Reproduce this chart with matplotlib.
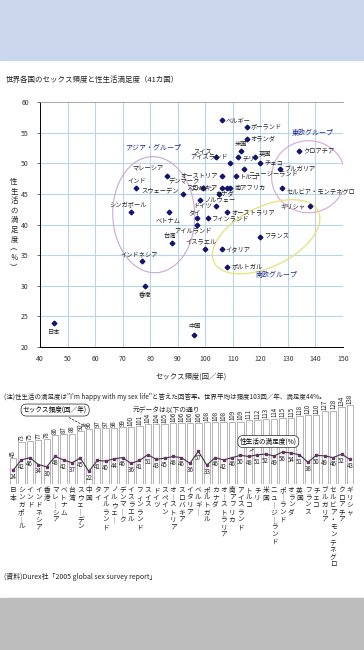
import numpy as np
import matplotlib.pyplot as plt
from matplotlib.patches import Rectangle

plt.rcParams['font.family'] = ['Noto Sans CJK JP', 'DejaVu Sans']

# 41 countries, sorted by frequency (Durex 2005)
countries = ['日本', 'シンガポール', 'インド', 'インドネシア', '香港', 'マレーシア',
             'ベトナム', '台湾', 'スウェーデン', '中国', 'タイ', 'アイルランド',
             'ノルウェー', 'デンマーク', 'イスラエル', 'フィンランド', 'スイス',
             'ドイツ', 'スペイン', 'オーストリア', 'スロバキア', 'イタリア',
             'ベルギー', 'ポルトガル', 'カナダ', 'オーストラリア', '南アフリカ',
             'アイスランド', 'トルコ', 'チリ', '米国', 'ニュージーランド',
             'ポーランド', 'オランダ', '英国', 'フランス', 'チェコ', 'ブルガリア',
             'セルビア・モンテネグロ', 'クロアチア', 'ギリシャ']
freq = [45, 73, 75, 77, 78, 86, 87, 88, 92, 96, 97, 97, 98, 99, 100, 101, 104,
        104, 105, 106, 106, 106, 106, 108, 108, 108, 109, 109, 111, 112, 113,
        114, 115, 115, 118, 120, 120, 127, 128, 134, 138]
satisfaction = [24, 42, 46, 34, 30, 48, 42, 37, 45, 22, 41, 40, 44, 46, 36, 41,
                51, 43, 45, 48, 46, 36, 57, 33, 46, 42, 46, 50, 48, 51, 52, 49,
                56, 54, 51, 38, 50, 49, 46, 52, 43]

# label placement for the scatter (offset in points, alignment)
label_place = {
    '日本': (0, -7, 'center'), 'シンガポール': (-2, 5, 'center'),
    'インド': (0, 5, 'center'), 'インドネシア': (-2, 5, 'center'),
    '香港': (0, -7, 'center'), 'マレーシア': (-2, 5, 'right'),
    'ベトナム': (-1, -6, 'center'), '台湾': (-2, 5, 'center'),
    'スウェーデン': (-3, 2, 'right'), '中国': (0, 6, 'center'),
    'タイ': (-2, 4, 'center'), 'アイルランド': (-3, -4, 'center'),
    'ノルウェー': (3, 0, 'left'), 'デンマーク': (-2, 5, 'right'),
    'イスラエル': (-3, 5, 'center'), 'フィンランド': (2, 0, 'left'),
    'スイス': (-3, 3, 'right'), 'ドイツ': (-3, 0, 'right'),
    'スペイン': (-3, 3, 'right'), 'オーストリア': (-3, 0, 'right'),
    'スロバキア': (-3, 0, 'right'), 'イタリア': (3, 0, 'left'),
    'ベルギー': (3, 0, 'left'), 'ポルトガル': (3, 0, 'left'),
    'カナダ': (-2, -5, 'center'), 'オーストラリア': (3, 0, 'left'),
    '南アフリカ': (3, 0, 'left'), 'アイスランド': (-2, 5, 'right'),
    'トルコ': (3, -1, 'left'), 'チリ': (3, -1, 'left'), '米国': (0, 5, 'center'),
    'ニュージーランド': (3, -3, 'left'), 'ポーランド': (3, 0, 'left'),
    'オランダ': (3, 0, 'left'), '英国': (3, 3, 'left'), 'フランス': (3, 0, 'left'),
    'チェコ': (3, 0, 'left'), 'ブルガリア': (3, 0, 'left'),
    'セルビア・モンテネグロ': (3, -3, 'left'), 'クロアチア': (3, 0, 'left'),
    'ギリシャ': (-3, 0, 'right'),
}

W, H = 364, 650
NAVY = '#14146e'
GRID = '#b9d6e8'

fig = plt.figure(figsize=(W / 100, H / 100), dpi=100)
fig.patch.set_facecolor('white')
fig.patches.append(Rectangle((0, 1 - 60 / H), 1, 60 / H, transform=fig.transFigure,
                             color='#cad6ec', zorder=-5))
fig.patches.append(Rectangle((0, 0), 1, 52 / H, transform=fig.transFigure,
                             color='#bdbdbd', zorder=-5))

fig.text(6 / W, 1 - 80 / H, '世界各国のセックス頻度と性生活満足度（41カ国）',
         fontsize=5.4, va='center', ha='left', color='#222')

# ---------------- scatter ----------------
ax = fig.add_axes([40 / W, 1 - 347 / H, 303 / W, 245 / H])
ax.set_xlim(40, 150)
ax.set_ylim(20, 60)
ax.set_xticks(np.arange(40, 151, 10))
ax.set_yticks(np.arange(20, 61, 5))
for v in range(50, 150, 10):
    ax.axvline(v, color=GRID, lw=0.8, zorder=0)
for v in range(25, 60, 5):
    ax.axhline(v, color=GRID, lw=0.8, zorder=0)
ax.spines['right'].set_visible(False)
ax.spines['top'].set_color('#9a9a9a')
ax.spines['top'].set_linewidth(0.6)
ax.spines['left'].set_linewidth(0.7)
ax.spines['bottom'].set_linewidth(0.7)
ax.tick_params(labelsize=5, length=2, width=0.5, colors='#333', pad=6)
ax.tick_params(axis='x', length=0)

ax.plot(freq, satisfaction, 'D', ms=2.4, color=NAVY, zorder=3)
for c, fx, sy in zip(countries, freq, satisfaction):
    dx, dy, ha = label_place[c]
    ax.annotate(c, (fx, sy), xytext=(dx, dy), textcoords='offset points',
                ha=ha, va='center', fontsize=4.5, color='#222', zorder=4)

# group ellipses drawn in pixel proportions
SX, SY = 2.755, 6.12


def ellipse(cx, cy, a, b, ang):
    t = np.linspace(0, 2 * np.pi, 200)
    th = np.radians(ang)
    px = a * np.cos(t) * np.cos(th) - b * np.sin(t) * np.sin(th)
    py = a * np.cos(t) * np.sin(th) + b * np.sin(t) * np.cos(th)
    return cx + px / SX, cy + py / SY


ax.plot(*ellipse(81.3, 41.6, 58, 41, 92), color='#c7a8d8', lw=0.8, zorder=2)
ax.plot(*ellipse(137.5, 47.8, 37, 36, 0), color='#d9a6d9', lw=0.8, zorder=2)
ax.plot(*ellipse(122.1, 38.0, 58, 30, 26), color='#e8e07a', lw=0.9, zorder=2)

ax.text(81, 52.3, 'アジア・グループ', fontsize=5, color='#1c2a8c', ha='center')
ax.text(139, 54.6, '東欧グループ', fontsize=5, color='#1c2a8c', ha='center')
ax.text(126, 31.5, '南欧グループ', fontsize=5, color='#1c2a8c', ha='center')

ax.set_xlabel('セックス頻度(回／年)', fontsize=5.3, labelpad=7, color='#222')
fig.text(14 / W, 1 - 225 / H, '\n'.join('性生活の満足度︵％︶'), fontsize=5.3,
         ha='center', va='center', linespacing=1.25, color='#222')

fig.text(4 / W, 1 - 397 / H,
         '(注)性生活の満足度は"I\'m happy with my sex life"と答えた回答率。'
         '世界平均は頻度103回／年、満足度44%。',
         fontsize=4.65, ha='left', va='center', color='#222')
fig.text(133 / W, 1 - 410 / H, '元データは以下の通り', fontsize=4.9,
         ha='left', va='center', color='#222')

# ---------------- bar + line ----------------
bx = fig.add_axes([8.8 / W, 1 - 484 / H, 345.4 / W, 86 / H])
xs = np.arange(len(countries))
bx.bar(xs, freq, width=0.76, color='white', edgecolor='#a8a8a8', lw=0.6)
bx.plot(xs, satisfaction, color='#3a3a3a', lw=0.8, marker='s', ms=1.6,
        mfc='#6b2f6b', mec='#6b2f6b')
for i, (f, s) in enumerate(zip(freq, satisfaction)):
    bx.text(i, f + 2, str(f), rotation=90, ha='center', va='bottom', fontsize=4.4,
            color='#222')
    bx.text(i, s - 5, str(s), ha='center', va='top', fontsize=4.4, color='#222')
for i, c in enumerate(countries):
    bx.text(i, -4, '\n'.join(c.replace('ー', '｜')), ha='center', va='top',
            fontsize=4.8, linespacing=0.9, color='#222', clip_on=False)
bx.set_xlim(-0.5, len(countries) - 0.5)
bx.set_ylim(0, 150)
bx.axis('off')

bx.annotate('セックス頻度(回／年)', xy=(8.9, 98), xytext=(5.0, 129),
            fontsize=4.8, ha='center', va='center',
            bbox=dict(boxstyle='round,pad=0.3,rounding_size=0.8', fc='white',
                      ec='#222', lw=0.5),
            arrowprops=dict(arrowstyle='->', lw=0.5, color='#222',
                            linestyle=(0, (3, 2))))
bx.annotate('性生活の満足度(%)', xy=(27.8, 55), xytext=(30.3, 74),
            fontsize=4.8, ha='center', va='center',
            bbox=dict(boxstyle='round,pad=0.3,rounding_size=0.8', fc='white',
                      ec='#222', lw=0.5),
            arrowprops=dict(arrowstyle='-', lw=0.5, color='#222'))

fig.text(4 / W, 1 - 577 / H, '(資料)Durex社「2005 global sex survey report」',
         fontsize=5.0, ha='left', va='center', color='#222')

fig.savefig('out.png', dpi=100)
